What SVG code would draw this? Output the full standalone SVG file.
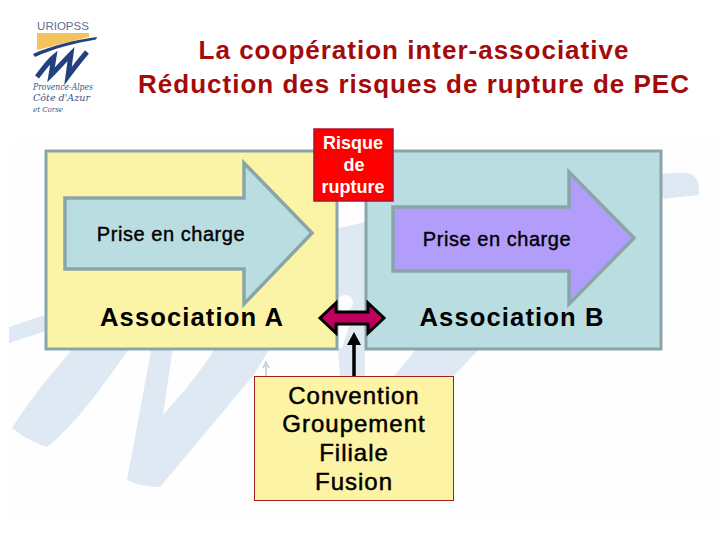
<svg xmlns="http://www.w3.org/2000/svg" width="720" height="540" viewBox="0 0 720 540">
<style>
text{font-family:"Liberation Sans",Arial,sans-serif;fill:#000;text-anchor:middle}
.t{font-size:26px;font-weight:700;fill:#a50a0a;letter-spacing:1px}
.b{font-size:20px;stroke:#000;stroke-width:.4px;letter-spacing:.55px}
.c{font-size:24px;stroke:#000;stroke-width:.5px;letter-spacing:1px}
.m{font-size:25.600px;font-weight:700;letter-spacing:1.100px}
.r{font-size:18px;font-weight:700;fill:#fff}
.wm{fill:#dfe9f4}
.bx{stroke:#8aa5a8;stroke-width:3}
.ar{stroke:#8aa5a8;stroke-width:3.500}
.hand{font-family:"DejaVu Serif",serif;font-style:italic;fill:#3a5488;text-anchor:start}
</style>
<rect width="720" height="540" fill="#fff"/>
<g id="watermark">
<rect x="10" y="140" width="710" height="380" fill="#fefefe"/>
<path class="wm" d="M9 327C150 280 420 190 662 174Q680 172 688 173Q698 176 699 187V195L662 199C440 220 200 280 9 343Z"/>
<path class="wm" d="M12 428C40 385 70 350 110 310L165 310C150 340 128 350 128 350C100 390 75 425 47 447Q28 441 12 428Z"/>
<path class="wm" d="M127 480L153 340H174L163 415C190 385 205 365 217 345L275 340L253 376L160 487Q140 487 127 480Z"/>
<path class="wm" d="M338 248L365 243V376H340L338 350Z"/>
<path class="wm" d="M417 348H480L453 377H393Z"/>
<circle cx="345" cy="303" r="8" fill="#fefefe"/>
<path d="M338 326H349L342 348H338Z" fill="#fefefe"/>
<path d="M266 376V365M263 368L266 362L269 368" fill="none" stroke="#b5d0d5" stroke-width="1.500"/>
</g>
<g id="logo">
<text x="63" y="30" style="font-size:11.500px;fill:#5a6f94">URIOPSS</text>
<path d="M37 33H89V37L37 50Z" fill="#f3c45e"/>
<path d="M33 54C50 46 75 40 97 37L96 39.500C75 43 52 49 35 57Z" fill="#23417f"/>
<path d="M37 77C44 68 48 62 54 57L51 75C58 68 64 61 71 54L68 76C74 68 80 60 87 52" fill="none" stroke="#23417f" stroke-width="5"/>
<text class="hand" x="33" y="90" font-size="9" textLength="60" lengthAdjust="spacingAndGlyphs">Provence-Alpes</text>
<text class="hand" x="33" y="101" font-size="9" textLength="57" lengthAdjust="spacingAndGlyphs">Côte d'Azur</text>
<text class="hand" x="33" y="112" font-size="8" textLength="30" lengthAdjust="spacingAndGlyphs">et Corse</text>
</g>
<g id="title">
<text class="t" x="414" y="59">La coopération inter-associative</text>
<text class="t" x="414" y="93">Réduction des risques de rupture de PEC</text>
</g>
<g id="association-a">
<rect class="bx" x="46" y="151" width="291" height="198" fill="#fbf3a6"/>
<text class="m" x="192" y="326">Association A</text>
</g>
<g id="association-b">
<rect class="bx" x="366" y="151" width="295" height="198" fill="#b9dde1"/>
<text class="m" x="512" y="326">Association B</text>
</g>
<g id="prise-a">
<path class="ar" d="M65 198H244V163L312 233L244 304V269H65Z" fill="#b9dde1"/>
<text class="b" x="171" y="241">Prise en charge</text>
</g>
<g id="prise-b">
<path class="ar" d="M393 207H569V172L634 238L569 304V271H393Z" fill="#b39dfa"/>
<text class="b" x="497" y="246">Prise en charge</text>
</g>
<g id="risque">
<rect x="314" y="129" width="79" height="72" fill="#ff0000" stroke="#b01030" stroke-width="1.500"/>
<text class="r" x="353" y="149">Risque</text>
<text class="r" x="354" y="171">de</text>
<text class="r" x="353" y="193">rupture</text>
</g>
<g id="connectors">
<path d="M320 318L336 303V312H368V303L384 318L368 333V324H336V333Z" fill="#c00060" stroke="#000" stroke-width="3"/>
<path d="M354 377V342" stroke="#000" stroke-width="3.500" fill="none"/>
<path d="M347 345L354 332L361 345Z" fill="#000"/>
</g>
<g id="convention">
<rect x="254.500" y="376.500" width="199" height="124" fill="#fdf3a4" stroke="#a02020" stroke-width="1"/>
<text class="c" x="354" y="404">Convention</text>
<text class="c" x="354" y="432">Groupement</text>
<text class="c" x="354" y="461">Filiale</text>
<text class="c" x="354" y="490">Fusion</text>
</g>
</svg>
